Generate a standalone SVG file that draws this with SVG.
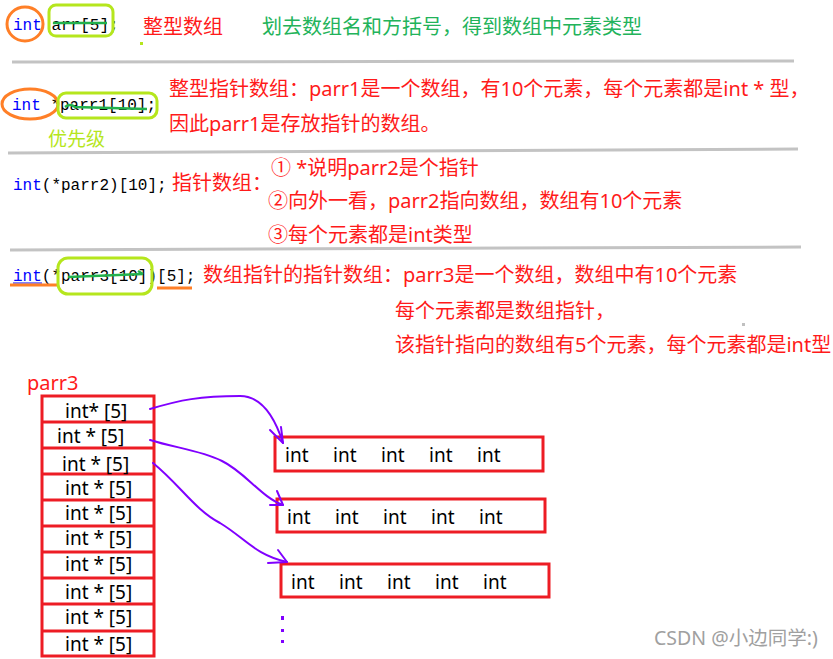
<svg xmlns="http://www.w3.org/2000/svg" width="833" height="659" viewBox="0 0 833 659">
<style>
.code{font-family:"Courier New","Liberation Mono",monospace;font-size:16px;fill:#000}
.kw{fill:#0000ff}
.red{font-family:"Noto Sans","Noto Sans CJK SC",sans-serif;font-size:20px;fill:#ff1a1a}
.green{font-family:"Noto Sans","Noto Sans CJK SC",sans-serif;font-size:20px;fill:#22b35a}
.lime{font-family:"Noto Sans","Noto Sans CJK SC",sans-serif;font-size:19px;fill:#b5e61d}
.cell{font-family:"Noto Sans","Noto Sans CJK SC",sans-serif;font-size:19px;fill:#000}
.sep{stroke:#c3c3c3;stroke-width:3;fill:none}
.orange{stroke:#ff7f27;stroke-width:3;fill:none}
.limebox{stroke:#b5e61d;stroke-width:3;fill:none}
.strike{stroke:#22b14c;stroke-width:2.5;fill:none}
.box{stroke:#ed1c24;stroke-width:3;fill:none}
.arrow{stroke:#8000ff;stroke-width:2;fill:none;stroke-linecap:round}
.wm{font-family:"Noto Sans","Noto Sans CJK SC",sans-serif;font-size:19.5px;fill:#a0a0a0}
</style>
<rect width="833" height="659" fill="#ffffff"/>

<g id="separators">
<line class="sep" x1="12" y1="62" x2="794" y2="61"/>
<line class="sep" x1="8" y1="153" x2="798" y2="149"/>
<line class="sep" x1="10" y1="250" x2="801" y2="247"/>
</g>

<g id="line1">
<text class="code" x="13" y="30"><tspan class="kw">int</tspan> arr[5];</text>
<ellipse class="orange" cx="25" cy="24" rx="18" ry="17"/>
<rect class="limebox" x="49" y="5" width="64" height="31" rx="7"/>
<line class="strike" x1="53" y1="23" x2="107" y2="23"/>
<text class="red" x="143" y="34">整型数组</text>
<text class="green" x="262" y="34">划去数组名和方括号，得到数组中元素类型</text>
<rect x="140" y="42" width="3" height="3" fill="#b5e61d"/>
</g>

<g id="line2">
<text class="code" x="12" y="110"><tspan class="kw">int</tspan> *parr1[10];</text>
<ellipse class="orange" cx="30" cy="104" rx="28" ry="15"/>
<rect class="limebox" x="58" y="93" width="99" height="25" rx="8"/>
<path class="strike" d="M65,107 Q70,103 75,107 L147,109"/>
<text class="lime" x="48" y="146">优先级</text>
<text class="red" x="169" y="96">整型指针数组：parr1是一个数组，有10个元素，每个元素都是int * 型，</text>
<text class="red" x="169" y="131">因此parr1是存放指针的数组。</text>
</g>

<g id="line3">
<text class="code" x="13" y="190"><tspan class="kw">int</tspan>(*parr2)[10];</text>
<text class="red" x="172" y="190">指针数组：</text>
<text class="red" x="271" y="175">① *说明parr2是个指针</text>
<text class="red" x="268" y="208">②向外一看，parr2指向数组，数组有10个元素</text>
<text class="red" x="268" y="242">③每个元素都是int类型</text>
</g>

<g id="line4">
<text class="code" x="13" y="281"><tspan class="kw">int</tspan>(*parr3[10])[5];</text>
<line x1="13" y1="283" x2="42" y2="283" stroke="#0000ff" stroke-width="1"/>
<line class="orange" x1="10" y1="285" x2="57" y2="285" stroke-width="2.5"/>
<line class="orange" x1="157" y1="288" x2="192" y2="288" stroke-width="2.5"/>
<rect class="limebox" x="58" y="258" width="94" height="36" rx="10"/>
<path class="strike" d="M68,277 L143,274 M138,271 L143,274"/>
<text class="red" x="203" y="282">数组指针的指针数组：parr3是一个数组，数组中有10个元素</text>
<text class="red" x="395" y="318">每个元素都是数组指针，</text>
<text class="red" x="395" y="352">该指针指向的数组有5个元素，每个元素都是int型</text>
<rect x="742" y="323" width="3" height="3" fill="#c0c0c0"/>
</g>

<g id="parr3">
<text class="red" x="27" y="390">parr3</text>
<rect class="box" x="42" y="396" width="112" height="260"/>
<g stroke="#ed1c24" stroke-width="3">
<line x1="42" y1="422" x2="154" y2="422"/>
<line x1="42" y1="448" x2="154" y2="448"/>
<line x1="42" y1="474" x2="154" y2="474"/>
<line x1="42" y1="500" x2="154" y2="500"/>
<line x1="42" y1="526" x2="154" y2="526"/>
<line x1="42" y1="552" x2="154" y2="552"/>
<line x1="42" y1="578" x2="154" y2="578"/>
<line x1="42" y1="604" x2="154" y2="604"/>
<line x1="42" y1="631" x2="154" y2="631"/>
</g>
<text class="cell" x="65" y="418">int* [5]</text>
<text class="cell" x="57" y="443">int * [5]</text>
<text class="cell" x="62" y="471">int * [5]</text>
<text class="cell" x="65" y="495">int * [5]</text>
<text class="cell" x="65" y="520">int * [5]</text>
<text class="cell" x="65" y="545">int * [5]</text>
<text class="cell" x="65" y="571">int * [5]</text>
<text class="cell" x="65" y="599">int * [5]</text>
<text class="cell" x="65" y="624">int * [5]</text>
<text class="cell" x="65" y="651">int * [5]</text>
</g>

<g id="array1">
<rect class="box" x="275" y="437" width="268" height="34"/>
<text class="cell" y="462"><tspan x="285">int</tspan><tspan x="333">int</tspan><tspan x="381">int</tspan><tspan x="429">int</tspan><tspan x="477">int</tspan></text>
</g>

<g id="array2">
<rect class="box" x="277" y="499" width="268" height="33"/>
<text class="cell" y="524"><tspan x="287">int</tspan><tspan x="335">int</tspan><tspan x="383">int</tspan><tspan x="431">int</tspan><tspan x="479">int</tspan></text>
</g>

<g id="array3">
<rect class="box" x="281" y="564" width="268" height="33"/>
<text class="cell" y="589"><tspan x="291">int</tspan><tspan x="339">int</tspan><tspan x="387">int</tspan><tspan x="435">int</tspan><tspan x="483">int</tspan></text>
</g>

<g id="connectors">
<path class="arrow" d="M150,409 C180,400 200,396 240,396 C262,396 275,418 283,443"/>
<path class="arrow" d="M270,430 L283,443 M281,427 L283,443"/>
<path class="arrow" d="M150,440 C175,448 200,450 222,461 C245,472 262,498 283,505"/>
<path class="arrow" d="M277,491 L283,505 M270,505 L283,505"/>
<path class="arrow" d="M153,463 C180,485 195,510 220,523 C245,538 255,555 287,562"/>
<path class="arrow" d="M278,550 L287,562 M268,563 L287,562"/>
<rect x="281" y="616" width="3" height="4" fill="#8000ff"/>
<rect x="281" y="629" width="3" height="3" fill="#8000ff"/>
<rect x="281" y="640" width="3" height="3" fill="#8000ff"/>
</g>

<text class="wm" x="654" y="645">CSDN @小边同学:)</text>
</svg>
